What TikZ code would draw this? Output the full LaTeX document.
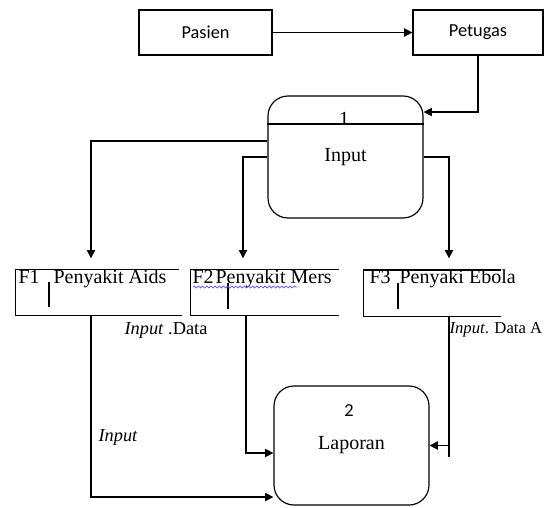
\documentclass[tikz,border=0pt]{standalone}
\usepackage{fontspec}
\setmainfont{Liberation Serif}
\newfontfamily\calibri{Carlito}
\usepackage{tikz}
\usetikzlibrary{arrows.meta, positioning, decorations.pathmorphing}

\begin{document}
\begin{tikzpicture}[x=0.6pt, y=-0.6pt, line width=0.7pt,
    flow/.style={-{Triangle[length=5pt, width=5pt]}},
    entity/.style={draw, minimum height=27pt, font=\calibri\fontsize{11}{13}\selectfont},
    proses/.style={draw, rounded corners=12pt, minimum width=93pt, font=\fontsize{12}{14}\selectfont},
    store/.style={minimum height=27pt, inner sep=0pt},
    lbl/.style={anchor=base west, inner sep=0pt, font=\fontsize{12}{14}\selectfont},
    note/.style={anchor=west, inner sep=0pt, font=\fontsize{11}{13}\selectfont}]
    \useasboundingbox (0,0) rectangle (548,507);
    % entities and processes
    \node[entity, minimum width=79.8pt] (pasien) at (205.5,32.5) {Pasien};
    \node[entity, minimum width=78pt] (petugas) at (478,32.5) {Petugas};
    \node[proses, minimum height=73.2pt] (p1) at (345.5,157) {Input};
    \node[proses, minimum height=71.4pt] (p2) at (351.5,445.5) {Laporan};
    \draw ([yshift=19.8pt]p1.west) -- ([yshift=19.8pt]p1.east);
    \node[inner sep=0pt, font=\fontsize{12}{14}\selectfont] (n1) at (344,119) {1};
    \node[inner sep=0pt, font=\calibri\fontsize{11}{13}\selectfont] (n2) at (349,411) {2};
    % data stores
    \node[store, minimum width=97.2pt] (f1) at (97,292.5) {};
    \node[store, minimum width=88.2pt] (f2) at (264.5,292.5) {};
    \node[store, minimum width=81.6pt] (f3) at (432,293) {};
    \draw (f1.north east) -- (f1.north west) -- (f1.south west) -- ([xshift=2pt]f1.south east);
    \draw (f2.north east) -- (f2.north west) -- (f2.south west) -- (f2.south east);
    \draw (f3.north east) -- (f3.north west) -- (f3.south west) -- (f3.south east);
    \draw (49,282) -- (49,307);
    \draw (228,283) -- (228,309);
    \draw (398,283) -- (398,309);
    \node[lbl] (f1id) at (18,283) {F1};
    \node[lbl] (f1nm) at (53,283) {Penyakit Aids};
    \node[lbl] (f2id) at (192,283) {F2};
    \node[lbl] (f2nm) at (215,283) {Penyakit Mers};
    \node[lbl] (f3id) at (369,283) {F3};
    \node[lbl] (f3nm) at (399,283) {Penyaki Ebola};
    \draw[blue!70, line width=0.4pt, decorate,
          decoration={snake, amplitude=0.6pt, segment length=2.5pt}] (193,287) -- (297,287);
    % flows
    \coordinate (f1in) at (91,270);
    \coordinate (f2in) at (243,270);
    \coordinate (f3in) at (449,270);
    \coordinate (f1out) at (91,315);
    \coordinate (f2out) at (246,315);
    \coordinate (f3out) at (449,316);
    \draw[flow] (pasien) -- (petugas);
    \draw[flow] (petugas.south) |- ([yshift=27pt]p1.east);
    \draw[flow, shorten >=7pt] ([yshift=9.6pt]p1.west) -| (f1in);
    \draw[flow, shorten >=7pt] (p1.west) -| (f2in);
    \draw[flow, shorten >=7pt] (p1.east) -| (f3in);
    \draw[flow] (f1out) |- ([yshift=-30.9pt]p2.west);
    \draw[flow] (f2out) |- ([yshift=-4.5pt]p2.west);
    \draw (f3out) -- ++(0,141);
    \draw[flow] (f3out |- p2.east) -- (p2.east);
    % labels
    \node[note] (t1) at (124,330) {\textit{Input} .Data};
    \node[note, font=\fontsize{10}{12}\selectfont] (t2) at (449,330) {\textit{Input}. Data A};
    \node[note] (t3) at (98,437) {\textit{Input}};
\end{tikzpicture}
\end{document}
